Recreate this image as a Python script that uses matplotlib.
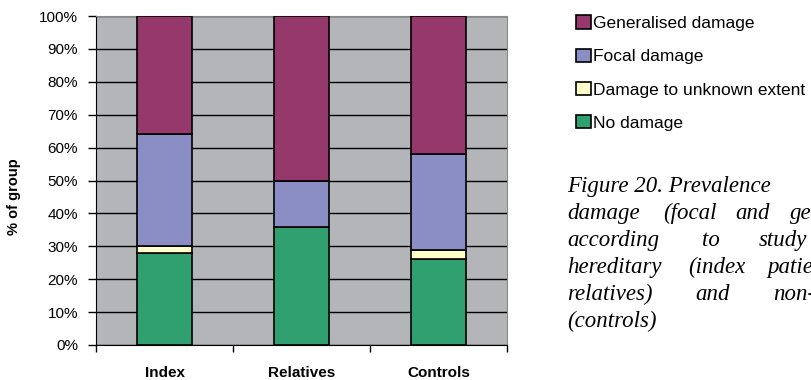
import matplotlib
matplotlib.use("Agg")
import matplotlib.pyplot as plt
import numpy as np

groups = ["Index", "Relatives", "Controls"]
no_damage = [28, 36, 26]
unknown_extent = [2, 0, 3]
focal = [34, 14, 29]
generalised = [36, 50, 42]

series = [
    ("No damage", no_damage, "#31A070"),
    ("Damage to unknown extent", unknown_extent, "#FFFFCC"),
    ("Focal damage", focal, "#8B8EC4"),
    ("Generalised damage", generalised, "#95386B"),
]

plt.rcParams["font.family"] = ["Liberation Sans", "DejaVu Sans"]

W, H = 811, 380
fig = plt.figure(figsize=(W / 100, H / 100), dpi=100)
ax = fig.add_axes([96 / W, 1 - 345 / H, (507 - 96) / W, (345 - 16) / H])
ax.set_facecolor("#B4B5B9")

x = np.arange(len(groups))
bottom = np.zeros(len(groups))
handles = []
for label, vals, color in series:
    vals = np.array(vals, dtype=float)
    b = ax.bar(x, vals, bottom=bottom, width=0.4, color=color,
               edgecolor="black", linewidth=1.2, label=label, zorder=3)
    handles.append(b)
    bottom += vals

ax.set_xlim(-0.5, len(groups) - 0.5)
ax.set_ylim(0, 100)
ax.set_yticks(np.arange(0, 101, 10))
ax.set_yticklabels([f"{v}%" for v in range(0, 101, 10)], fontsize=11)
ax.yaxis.grid(True, color="black", linewidth=1.0, zorder=1)
ax.set_axisbelow(True)

ax.set_xticks(x)
ax.set_xticklabels(groups, fontsize=11, fontweight="bold")
ax.tick_params(axis="x", length=0, pad=15)
ax.set_xticks(np.arange(-0.5, len(groups), 1.0), minor=True)
ax.tick_params(axis="x", which="minor", length=5, width=1, color="black")
ax.tick_params(axis="y", length=6, width=1, pad=7)

for side in ["top", "right"]:
    ax.spines[side].set_color("#888888")
ax.spines["left"].set_color("black")
ax.spines["bottom"].set_color("black")

fig.text(14 / W, 1 - 197 / H, "% of group", fontsize=10.5, fontweight="bold",
         rotation=90, ha="center", va="center")

leg = fig.legend(handles=handles[::-1], labels=[s[0] for s in series][::-1],
                 loc="upper left", bbox_to_anchor=(576 / W, 1 - 15.5 / H),
                 frameon=False, fontsize=12.5, handlelength=0.86,
                 handleheight=0.78, handletextpad=0.12, labelspacing=1.02,
                 borderaxespad=0, borderpad=0)

# justified caption beside the chart, one (word, x-position) pair per word
caption = [
    [("Figure 20. Prevalence", 567)],
    [("damage", 567), ("(focal", 663), ("and", 735), ("generalised)", 790)],
    [("according", 567), ("to", 702), ("study", 759)],
    [("hereditary", 567), ("(index", 688), ("patients", 767)],
    [("relatives)", 567), ("and", 695), ("non-", 773)],
    [("(controls)", 567)],
]
baselines = [192, 219, 246, 273, 300, 327]
for words, yb in zip(caption, baselines):
    for w, xp in words:
        fig.text(xp / W, 1 - yb / H, w, fontsize=16.5, fontstyle="italic",
                 family=["Liberation Serif", "DejaVu Serif"],
                 ha="left", va="baseline")

fig.savefig("out.png", dpi=100)
